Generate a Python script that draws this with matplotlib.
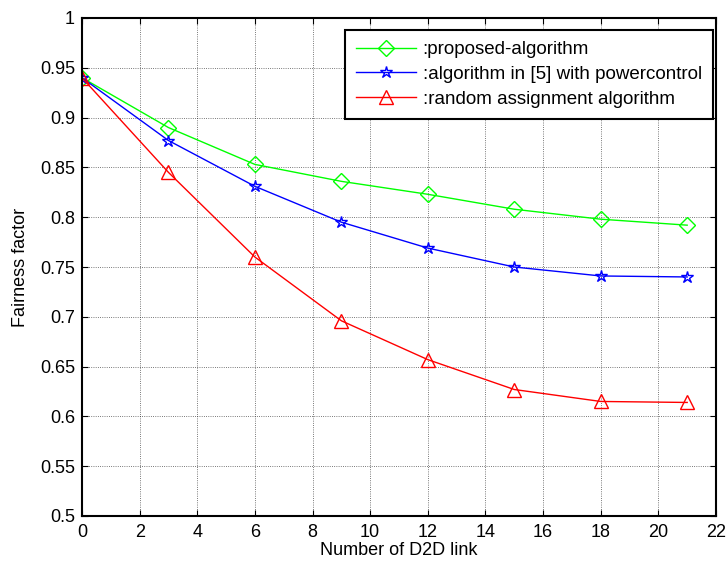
import matplotlib
matplotlib.use("Agg")
import matplotlib.pyplot as plt

x = [0, 3, 6, 9, 12, 15, 18, 21]
proposed = [0.940, 0.890, 0.853, 0.836, 0.823, 0.808, 0.798, 0.792]
alg5 = [0.940, 0.877, 0.831, 0.795, 0.769, 0.750, 0.741, 0.740]
random_assign = [0.940, 0.845, 0.760, 0.696, 0.657, 0.627, 0.615, 0.614]
labels = [":proposed-algorithm", ":algorithm in [5] with powercontrol", ":random assignment algorithm"]
xticks = list(range(0, 23, 2))
yticks = [0.5, 0.55, 0.6, 0.65, 0.7, 0.75, 0.8, 0.85, 0.9, 0.95, 1.0]
ytick_labels = ["0.5", "0.55", "0.6", "0.65", "0.7", "0.75", "0.8", "0.85", "0.9", "0.95", "1"]

plt.rcParams['font.family'] = ['Liberation Sans', 'DejaVu Sans']
W, H = 726, 566
fig = plt.figure(figsize=(W/100, H/100), dpi=100)
L, R, T, B = 82, 716, 18, 516
ax = fig.add_axes([L/W, (H-B)/H, (R-L)/W, (B-T)/H])

ax.plot(x, proposed, color='#00ff00', lw=1, marker='D', ms=8, mfc='none', mec='#00ff00', mew=1, label=labels[0])
ax.plot(x, alg5, color='#0000ff', lw=1, marker='*', ms=9, mfc='none', mec='#0000ff', mew=1, label=labels[1])
ax.plot(x, random_assign, color='#ff0000', lw=1, marker='^', ms=9.5, mfc='none', mec='#ff0000', mew=1, label=labels[2])

ax.set_xlim(0, 22)
ax.set_ylim(0.5, 1.0)
ax.set_xticks(xticks)
ax.set_yticks(yticks)
ax.set_yticklabels(ytick_labels)
ax.tick_params(direction='in', top=True, right=True, labelsize=13, length=4, width=0.8)
ax.tick_params(axis='x', pad=5.5)
ax.tick_params(axis='y', pad=5)
ax.grid(True, color='#000000', linestyle=':', linewidth=0.6, alpha=0.7)
for s in ax.spines.values():
    s.set_linewidth(1.5)
ax.set_xlabel("Number of D2D link", fontsize=13)
ax.xaxis.set_label_coords(0.5, -(542 - B) / (B - T))
ax.set_ylabel("Fairness factor", fontsize=13, labelpad=8)

leg = ax.legend(loc='upper right', bbox_to_anchor=((713-L)/(R-L), (B-30)/(B-T)),
                fontsize=13.5, frameon=True, fancybox=False,
                edgecolor='black', framealpha=1, borderaxespad=0, handlelength=3.2,
                handletextpad=0.35, labelspacing=0.4, borderpad=0.6)
leg.get_frame().set_linewidth(1.5)

fig.savefig("out.png", dpi=100)
